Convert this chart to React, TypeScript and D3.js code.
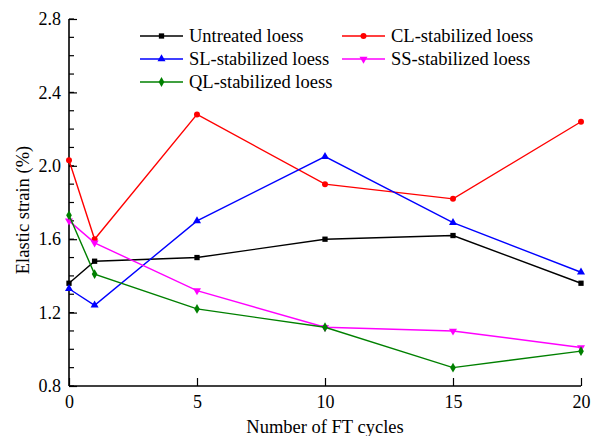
import React, { useEffect, useRef } from 'react';
import * as d3 from 'd3';

const cycles = [0, 1, 5, 10, 15, 20];
const untreated = [1.36, 1.48, 1.5, 1.6, 1.62, 1.36];
const clStab = [2.03, 1.6, 2.28, 1.9, 1.82, 2.24];
const slStab = [1.33, 1.24, 1.7, 2.05, 1.69, 1.42];
const ssStab = [1.7, 1.58, 1.32, 1.12, 1.1, 1.01];
const qlStab = [1.73, 1.41, 1.22, 1.12, 0.9, 0.99];

const xTicks = [0, 5, 10, 15, 20];
const yTicks = [0.8, 1.2, 1.6, 2.0, 2.4, 2.8];

const series = [
  { name: 'Untreated loess', values: untreated, color: '#000000', symbol: d3.symbolSquare, rot: 0, col: 0, row: 0 },
  { name: 'CL-stabilized loess', values: clStab, color: '#ff0000', symbol: d3.symbolCircle, rot: 0, col: 1, row: 0 },
  { name: 'SL-stabilized loess', values: slStab, color: '#0000ff', symbol: d3.symbolTriangle, rot: 0, col: 0, row: 1 },
  { name: 'SS-stabilized loess', values: ssStab, color: '#ff00ff', symbol: d3.symbolTriangle, rot: 180, col: 1, row: 1 },
  { name: 'QL-stabilized loess', values: qlStab, color: '#008000', symbol: d3.symbolDiamond, rot: 0, col: 0, row: 2 },
];

const FONT = '"Liberation Serif", "Times New Roman", serif';

export default function App() {
  const ref = useRef<SVGSVGElement>(null);

  useEffect(() => {
    const svg = d3.select(ref.current);
    svg.selectAll('*').remove();

    const x = d3.scaleLinear().domain([0, 20]).range([69, 581]);
    const y = d3.scaleLinear().domain([0.8, 2.8]).range([386, 19]);

    // minor y ticks every 0.1
    const minor = d3.range(8, 29).map((d) => d / 10);
    svg.append('g')
      .selectAll('line')
      .data(minor)
      .enter()
      .append('line')
      .attr('x1', 69)
      .attr('x2', 74)
      .attr('y1', (d) => y(d))
      .attr('y2', (d) => y(d))
      .attr('stroke', '#000')
      .attr('stroke-width', 1.2);

    const yAxis = d3.axisLeft(y).tickValues(yTicks).tickFormat(d3.format('.1f')).tickSize(-8).tickPadding(8);
    const gy = svg.append('g').attr('transform', 'translate(69,0)').call(yAxis);
    const xAxis = d3.axisBottom(x).tickValues(xTicks).tickFormat(d3.format('d')).tickSize(-8).tickPadding(9);
    const gx = svg.append('g').attr('transform', 'translate(0,386)').call(xAxis);

    [gx, gy].forEach((g) => {
      g.attr('font-family', null).style('font-family', FONT);
      g.select('.domain').attr('stroke-width', 1.6);
      g.selectAll('.tick line').attr('stroke-width', 1.2);
      g.selectAll('.tick text').style('font-family', FONT).attr('font-size', 18).attr('fill', '#000');
    });
    gy.select('.domain').attr('d', `M0,${y(2.8)}V${y(0.8)}`);
    gx.select('.domain').attr('d', `M${x(0)},0H${x(20)}`);

    const line = d3.line<number>()
      .x((d, i) => x(cycles[i]))
      .y((d) => y(d));

    series.forEach((s) => {
      svg.append('path')
        .attr('d', line(s.values))
        .attr('fill', 'none')
        .attr('stroke', s.color)
        .attr('stroke-width', 1.4);
      svg.append('g')
        .selectAll('path')
        .data(s.values)
        .enter()
        .append('path')
        .attr('d', d3.symbol().type(s.symbol).size(28)())
        .attr('transform', (d, i) => `translate(${x(cycles[i])},${y(d)}) rotate(${s.rot})`)
        .attr('fill', s.color);
    });

    // legend, two columns
    const colX = [140, 342];
    const rowY = [36, 59, 82];
    series.forEach((s) => {
      const lx = colX[s.col];
      const ly = rowY[s.row];
      const g = svg.append('g');
      g.append('line')
        .attr('x1', lx).attr('x2', lx + 43)
        .attr('y1', ly).attr('y2', ly)
        .attr('stroke', s.color).attr('stroke-width', 1.4);
      g.append('path')
        .attr('d', d3.symbol().type(s.symbol).size(28)())
        .attr('transform', `translate(${lx + 21.5},${ly}) rotate(${s.rot})`)
        .attr('fill', s.color);
      g.append('text')
        .attr('x', lx + 49)
        .attr('y', ly + 6)
        .style('font-family', FONT)
        .attr('font-size', 18.5)
        .text(s.name);
    });

    svg.append('text')
      .attr('x', 325)
      .attr('y', 433)
      .attr('text-anchor', 'middle')
      .style('font-family', FONT)
      .attr('font-size', 18.5)
      .text('Number of FT cycles');

    svg.append('text')
      .attr('transform', 'translate(29,210) rotate(-90)')
      .attr('text-anchor', 'middle')
      .style('font-family', FONT)
      .attr('font-size', 18.5)
      .text('Elastic strain (%)');
  }, []);

  return (
    <svg
      ref={ref}
      width={593}
      height={436}
      style={{ position: 'absolute', left: 0, top: 0, background: '#fff' }}
    />
  );
}
